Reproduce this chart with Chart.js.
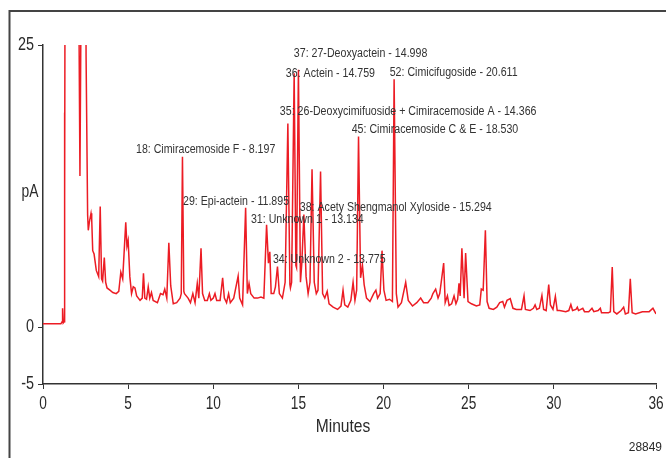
<!DOCTYPE html>
<html lang="en">
<head>
    <meta charset="UTF-8">
    <title>Chromatogram</title>
    <script src="https://cdn.jsdelivr.net/npm/chart.js"></script>
    <style>
        body {
            margin: 0;
            background-color: white;
        }
        canvas {
            display: block;
        }
    </style>
</head>
<body>
    <canvas id="chromChart" width="666" height="458"></canvas>

    <script>
        // retention time (minutes) and detector signal (pA)
        const times = [
            0.00, 1.05, 1.12, 1.15, 1.19, 1.24, 1.26, 1.28, 1.33, 1.60,
            2.00, 2.05, 2.10, 2.17, 2.24, 2.30, 2.45, 2.53, 2.62, 2.66,
            2.72, 2.82, 2.86, 2.92, 3.00, 3.13, 3.27, 3.36, 3.44, 3.50,
            3.60, 3.68, 3.76, 3.93, 4.10, 4.30, 4.45, 4.57, 4.68, 4.86,
            4.93, 5.00, 5.10, 5.20, 5.30, 5.40, 5.50, 5.70, 5.83, 5.90,
            5.98, 6.08, 6.18, 6.27, 6.37, 6.47, 6.72, 6.90, 7.05, 7.15,
            7.27, 7.39, 7.50, 7.65, 7.85, 8.05, 8.12, 8.19, 8.27, 8.31,
            8.52, 8.66, 8.80, 8.93, 9.06, 9.15, 9.28, 9.37, 9.50, 9.65,
            9.77, 9.86, 10.00, 10.10, 10.20, 10.40, 10.55, 10.65, 10.78, 10.90,
            11.00, 11.20, 11.46, 11.55, 11.72, 11.90, 12.00, 12.10, 12.20, 12.40,
            12.60, 12.80, 12.97, 13.13, 13.24, 13.32, 13.40, 13.55, 13.65, 13.77,
            13.88, 14.06, 14.22, 14.38, 14.50, 14.53, 14.60, 14.75, 14.85, 14.89,
            15.00, 15.12, 15.20, 15.32, 15.45, 15.57, 15.68, 15.80, 15.93, 16.05,
            16.15, 16.30, 16.42, 16.55, 16.69, 16.80, 17.04, 17.30, 17.50, 17.62,
            17.72, 17.90, 18.08, 18.21, 18.32, 18.42, 18.53, 18.65, 18.76, 18.86,
            19.00, 19.20, 19.42, 19.55, 19.65, 19.80, 19.91, 20.02, 20.15, 20.35,
            20.52, 20.62, 20.75, 20.85, 21.05, 21.30, 21.45, 21.70, 21.95, 22.18,
            22.35, 22.60, 22.80, 22.90, 23.06, 23.20, 23.30, 23.53, 23.62, 23.75,
            23.85, 24.00, 24.14, 24.25, 24.35, 24.43, 24.50, 24.60, 24.73, 24.82,
            24.96, 25.16, 25.45, 25.65, 25.74, 25.85, 25.98, 26.08, 26.20, 26.45,
            26.65, 26.82, 27.00, 27.10, 27.25, 27.44, 27.60, 27.80, 28.10, 28.25,
            28.33, 28.60, 28.80, 28.90, 29.00, 29.15, 29.30, 29.40, 29.55, 29.70,
            29.80, 29.95, 30.09, 30.20, 30.34, 30.70, 30.88, 31.00, 31.10, 31.30,
            31.38, 31.45, 31.70, 31.80, 32.05, 32.24, 32.35, 32.60, 32.73, 32.80,
            33.20, 33.32, 33.43, 33.52, 33.70, 33.95, 34.10, 34.20, 34.38, 34.49,
            34.60, 34.80, 35.20, 35.60, 35.82, 36.00
        ];
        const signal = [
            0.33, 0.33, 0.5, 1.7, 0.4, 0.5, 19.0, 11.0, 60, 60,
            60, 60, 30, 13.4, 30, 60, 60, 24, 10.0, 8.6,
            9.3, 10.1, 9.6, 6.8, 6.5, 5.05, 4.5, 10.7, 4.3, 4.1,
            6.2, 4.0, 3.5, 3.3, 3.1, 3.0, 3.2, 4.9, 4.3, 9.3,
            7.2, 7.7, 4.5, 3.0, 3.6, 3.5, 2.8, 2.4, 2.6, 4.8,
            2.6, 2.5, 3.6, 2.6, 3.1, 2.4, 2.2, 3.0, 2.9, 3.4,
            2.6, 7.5, 3.7, 2.1, 2.2, 2.6, 3.0, 15.1, 3.2, 3.0,
            2.6, 2.2, 3.0, 2.2, 3.9, 2.6, 7.0, 3.0, 2.4, 2.4,
            3.0, 2.4, 2.6, 3.0, 2.4, 2.4, 4.4, 2.6, 2.2, 3.0,
            2.2, 2.6, 4.55, 2.6, 2.0, 10.6, 3.0, 3.9, 3.0, 2.6,
            2.6, 2.7, 2.6, 9.1, 5.7, 6.7, 3.0, 3.0, 3.6, 5.4,
            3.0, 2.6, 4.0, 18.06, 3.8, 3.5, 4.0, 22.5, 5.5, 5.3,
            22.8, 4.0, 5.7, 10.0, 4.5, 3.0, 4.0, 14.0, 4.0, 3.0,
            3.3, 13.8, 3.0, 2.6, 3.2, 2.1, 1.8, 1.6, 1.9, 3.3,
            2.0, 1.8, 2.4, 4.0, 2.4, 3.3, 16.9, 4.4, 5.5, 3.8,
            2.6, 2.3, 3.0, 3.3, 2.6, 3.0, 6.8, 3.3, 2.4, 2.5,
            2.3, 21.96, 3.0, 1.8, 2.2, 4.0, 2.4, 1.9, 2.2, 2.6,
            2.2, 2.2, 2.6, 3.0, 3.4, 2.6, 3.0, 5.7, 2.2, 2.8,
            1.95, 2.1, 2.8, 2.1, 2.5, 3.9, 2.8, 7.0, 2.6, 6.6,
            2.3, 2.1, 1.9, 2.0, 3.4, 3.3, 8.6, 2.3, 1.7, 1.6,
            1.8, 2.2, 2.3, 1.8, 2.4, 2.55, 1.7, 1.6, 1.6, 2.8,
            1.6, 1.5, 1.7, 2.0, 1.6, 1.7, 2.84, 1.6, 1.5, 3.8,
            2.0, 1.6, 2.75, 1.5, 1.5, 1.4, 1.5, 2.04, 1.5, 1.6,
            1.8, 1.5, 1.7, 1.4, 1.4, 1.7, 1.4, 1.5, 1.7, 1.3,
            1.3, 1.4, 5.35, 1.4, 1.2, 1.5, 1.8, 1.2, 1.3, 4.3,
            1.3, 1.2, 1.4, 1.4, 1.7, 1.2
        ];
        const xTicks = [0, 5, 10, 15, 20, 25, 30, 36];
        const yTicks = [-5, 0, 25];

        // peak annotations
        const peakNames = [
            '18: Cimiracemoside F - 8.197',
            '29: Epi-actein - 11.895',
            '31: Unknown 1 - 13.134',
            '34: Unknown 2 - 13.775',
            '38: Acety Shengmanol Xyloside - 15.294',
            '35: 26-Deoxycimifuoside + Cimiracemoside A - 14.366',
            '45: Cimiracemoside C & E - 18.530',
            '36: Actein - 14.759',
            '37: 27-Deoxyactein - 14.998',
            '52: Cimicifugoside - 20.611'
        ];

        const family = '"Liberation Sans", Arial, sans-serif';

        // the original uses a condensed face; squeeze regular text sideways
        function narrowText(ctx, text, x, y, size, squeeze, align) {
            ctx.save();
            ctx.font = size + 'px ' + family;
            ctx.textAlign = align;
            ctx.textBaseline = 'middle';
            ctx.translate(x, y);
            ctx.scale(squeeze, 1);
            ctx.fillText(text, 0, 0);
            ctx.restore();
        }

        const chromPlugin = {
            id: 'chrom',
            beforeDraw(chart) {
                const ctx = chart.ctx;
                ctx.save();
                ctx.strokeStyle = '#444';
                ctx.lineWidth = 2;
                ctx.beginPath();
                ctx.moveTo(9.5, 458);
                ctx.lineTo(9.5, 11);
                ctx.lineTo(666, 11);
                ctx.stroke();
                ctx.restore();
            },
            afterDraw(chart, args, opts) {
                const ctx = chart.ctx;
                const xs = chart.scales.x;
                const ys = chart.scales.y;
                ctx.save();
                ctx.fillStyle = '#2a2a2a';
                xs.ticks.forEach(t => {
                    narrowText(ctx, String(t.value), xs.getPixelForValue(t.value), 404, 19, 0.72, 'center');
                });
                ys.ticks.forEach(t => {
                    narrowText(ctx, String(t.value), 34, ys.getPixelForValue(t.value), 18, 0.8, 'right');
                });
                narrowText(ctx, 'Minutes', 343, 427, 19, 0.82, 'center');
                narrowText(ctx, 'pA', 30, 192, 18, 0.77, 'center');
                narrowText(ctx, '28849', 662, 447, 13, 0.92, 'right');
                ctx.fillStyle = '#333';
                peakNames.forEach((name, i) => {
                    const p = opts.spots[i];
                    narrowText(ctx, name, xs.getPixelForValue(p[0]), ys.getPixelForValue(p[1]), 12.5, 0.85, 'left');
                });
                ctx.restore();
            }
        };

        const ctx = document.getElementById('chromChart').getContext('2d');
        new Chart(ctx, {
            type: 'line',
            data: {
                datasets: [{
                    label: 'Signal',
                    data: times.map((t, i) => ({ x: t, y: signal[i] })),
                    borderColor: '#ec1c24',
                    borderWidth: 1.5,
                    pointRadius: 0,
                    tension: 0,
                    fill: false
                }]
            },
            options: {
                responsive: false,
                animation: false,
                layout: {
                    padding: { top: 45, right: 10, bottom: 0, left: 0 }
                },
                plugins: {
                    legend: { display: false },
                    tooltip: { enabled: false },
                    chrom: {
                        // left edge (min), middle (pA) of each peak label
                        spots: [
                            [5.46, 15.78], [8.22, 11.13], [12.21, 9.57], [13.5, 6.03],
                            [15.08, 10.64], [13.91, 19.15], [18.13, 17.55], [14.26, 22.43],
                            [14.73, 24.2], [20.36, 22.6]
                        ]
                    }
                },
                scales: {
                    x: {
                        type: 'linear',
                        min: 0,
                        max: 36,
                        afterBuildTicks: s => { s.ticks = xTicks.map(v => ({ value: v })); },
                        afterFit: s => { s.height = 74; },
                        grid: { drawOnChartArea: false, drawTicks: true, tickLength: 5, color: '#333' },
                        border: { display: true, color: '#333', width: 1.5 },
                        ticks: { display: false }
                    },
                    y: {
                        min: -5,
                        max: 25,
                        afterBuildTicks: s => { s.ticks = yTicks.map(v => ({ value: v })); },
                        afterFit: s => { s.width = 43; },
                        grid: { drawOnChartArea: false, drawTicks: true, tickLength: 5, color: '#333' },
                        border: { display: true, color: '#333', width: 1.5 },
                        ticks: { display: false }
                    }
                }
            },
            plugins: [chromPlugin]
        });
    </script>
</body>
</html>
